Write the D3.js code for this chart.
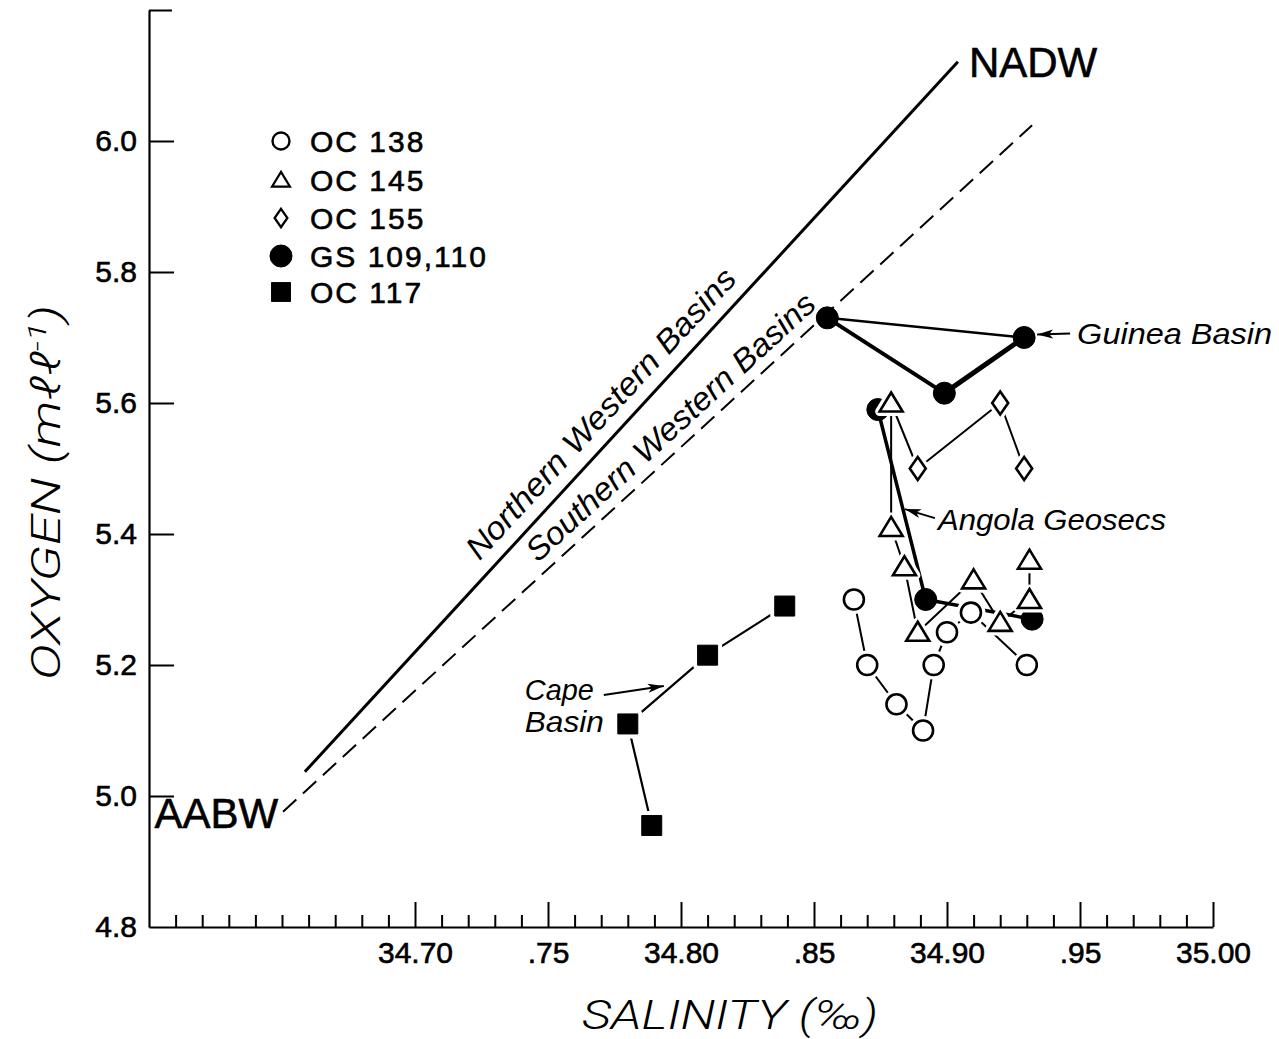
<!DOCTYPE html>
<html>
<head>
<meta charset="utf-8">
<script src="https://cdn.jsdelivr.net/npm/d3@7"></script>
<style>
  body { margin: 0; background: #fff; }
  svg { display: block; }
</style>
</head>
<body>
<svg id="chart" width="1279" height="1039"></svg>
<script>
// Axis ranges and tick labels
const salinityDomain = [34.60, 35.00];
const oxygenDomain = [4.8, 6.2];
const xMajorTicks = [34.70, 34.75, 34.80, 34.85, 34.90, 34.95, 35.00];
const xTickLabels = ["34.70", ".75", "34.80", ".85", "34.90", ".95", "35.00"];
const yMajorTicks = [4.8, 5.0, 5.2, 5.4, 5.6, 5.8, 6.0];
const yTickLabels = ["4.8", "5.0", "5.2", "5.4", "5.6", "5.8", "6.0"];

// Station data: [salinity (‰), oxygen (ml/l)]
const oc138 = [[34.865, 5.30], [34.870, 5.20], [34.881, 5.14], [34.891, 5.10],
               [34.895, 5.20], [34.900, 5.25], [34.909, 5.28], [34.930, 5.20]];
const oc145 = [[34.879, 5.60], [34.879, 5.41], [34.884, 5.35], [34.889, 5.25],
               [34.910, 5.33], [34.920, 5.265], [34.931, 5.30], [34.931, 5.36]];
const oc155 = [[34.889, 5.50], [34.920, 5.60], [34.929, 5.50]];
const gsGuinea = [[34.855, 5.73], [34.899, 5.615], [34.929, 5.70]];
const gsAngola = [[34.874, 5.59], [34.892, 5.30], [34.932, 5.27]];
const oc117 = [[34.839, 5.29], [34.810, 5.215], [34.780, 5.11], [34.789, 4.955]];

// Mixing lines between AABW and NADW
const northernLine = [[34.6586, 5.037], [34.9041, 6.121]];
const southernLine = [[34.6504, 4.976], [34.932, 6.024]];

const legendLabels = ["OC 138", "OC 145", "OC 155", "GS 109,110", "OC 117"];

// ---------------------------------------------------------------------
const svg = d3.select("#chart");
const margin = { left: 149, top: 10, right: 66, bottom: 112 };
const W = 1279, H = 1039;
const x = d3.scaleLinear().domain(salinityDomain).range([margin.left, W - margin.right]);
const y = d3.scaleLinear().domain(oxygenDomain).range([H - margin.bottom, margin.top]);

const tickFont = "'Liberation Sans', Arial, Helvetica, sans-serif";

const defs = svg.append("defs");
defs.append("marker")
  .attr("id", "arrowhead")
  .attr("viewBox", "-16 -5 17 10")
  .attr("refX", 0).attr("refY", 0)
  .attr("markerWidth", 17).attr("markerHeight", 10)
  .attr("markerUnits", "userSpaceOnUse")
  .attr("orient", "auto")
  .append("path")
  .attr("d", "M0,0 L-16,-4.5 L-12,0 L-16,4.5 Z")
  .attr("fill", "#000");

// ---- Axes -----------------------------------------------------------
const xMinor = d3.range(34.61, 35.0, 0.01).filter(v => !xMajorTicks.some(t => Math.abs(t - v) < 1e-6));

const xAxisMinor = d3.axisBottom(x).tickValues(xMinor).tickSize(-12).tickFormat("");
const gxm = svg.append("g").attr("transform", `translate(0,${y(4.8)})`).call(xAxisMinor);
gxm.select(".domain").remove();

const xAxis = d3.axisBottom(x)
  .tickValues(xMajorTicks)
  .tickSize(-25)
  .tickSizeOuter(0)
  .tickPadding(14)
  .tickFormat((d, i) => xTickLabels[i]);
const gx = svg.append("g").attr("transform", `translate(0,${y(4.8)})`).call(xAxis);

const yAxis = d3.axisLeft(y)
  .tickValues(yMajorTicks.concat([6.2]))
  .tickSize(-25)
  .tickSizeOuter(0)
  .tickPadding(12)
  .tickFormat((d, i) => i < yTickLabels.length ? yTickLabels[i] : "");
const gy = svg.append("g").attr("transform", `translate(${x(34.60)},0)`).call(yAxis);
gy.selectAll(".tick").filter(d => d === 6.2).select("line").attr("x2", 23);

[gx, gxm, gy].forEach(g => {
  g.selectAll("line").attr("stroke", "#000").attr("stroke-width", 2);
  g.selectAll(".domain").attr("stroke", "#000").attr("stroke-width", 2.2);
  g.selectAll("text")
    .attr("fill", "#000")
    .attr("stroke", "#000").attr("stroke-width", 0.6)
    .style("font-family", tickFont)
    .style("font-size", "30px");
});
gx.selectAll("text").attr("dy", "0.72em");
gy.selectAll(".tick").filter(d => d === 4.8).select("line").remove();

// Axis titles
svg.append("text")
  .attr("x", 582).attr("y", 1029)
  .attr("textLength", 296).attr("lengthAdjust", "spacingAndGlyphs")
  .style("font-family", "Roboto, 'Open Sans', sans-serif")
  .style("font-weight", 300).style("font-style", "italic")
  .style("font-size", "40px")
  .text("SALINITY (‰)");

const yTitle = svg.append("text")
  .attr("transform", "translate(60,680) rotate(-90)")
  .attr("textLength", 375).attr("lengthAdjust", "spacingAndGlyphs")
  .style("font-family", "Roboto, 'Open Sans', sans-serif")
  .style("font-weight", 300).style("font-style", "italic")
  .style("font-size", "40px");
yTitle.append("tspan").text("OXYGEN (mℓℓ");
yTitle.append("tspan").attr("dy", -14).style("font-size", "26px").text("-1");
yTitle.append("tspan").attr("dy", 14).text(")");

// ---- Mixing lines -----------------------------------------------------
const line = d3.line().x(d => x(d[0])).y(d => y(d[1]));

svg.append("path").datum(northernLine)
  .attr("d", line).attr("fill", "none")
  .attr("stroke", "#000").attr("stroke-width", 3);
svg.append("path").datum(southernLine)
  .attr("d", line).attr("fill", "none")
  .attr("stroke", "#000").attr("stroke-width", 2)
  .attr("stroke-dasharray", "18,9");

// Labels running along the mixing lines, set off to the upper-left side
function alongLabel(seg, t, offset, text, len) {
  const x0 = x(seg[0][0]), y0 = y(seg[0][1]);
  const x1 = x(seg[1][0]), y1 = y(seg[1][1]);
  const ang = Math.atan2(y1 - y0, x1 - x0);
  const px = x0 + (x1 - x0) * t, py = y0 + (y1 - y0) * t;
  const nx = Math.sin(ang), ny = -Math.cos(ang);
  svg.append("text")
    .attr("transform", `translate(${px + nx * offset},${py + ny * offset}) rotate(${ang * 180 / Math.PI})`)
    .attr("textLength", len).attr("lengthAdjust", "spacingAndGlyphs")
    .style("font-family", tickFont).style("font-style", "italic")
    .style("font-size", "32px")
    .text(text);
}
alongLabel(northernLine, 0.283, 14, "Northern  Western  Basins", 382);
alongLabel(southernLine, 0.350, 11, "Southern  Western  Basins", 380);

svg.append("text")
  .attr("x", x(southernLine[0][0]) - 5).attr("y", y(southernLine[0][1]) + 16)
  .attr("text-anchor", "end")
  .attr("stroke", "#000").attr("stroke-width", 0.6)
  .style("font-family", tickFont).style("font-size", "42px")
  .text("AABW");
svg.append("text")
  .attr("x", x(northernLine[1][0]) + 11).attr("y", y(northernLine[1][1]) + 15)
  .attr("stroke", "#000").attr("stroke-width", 0.6)
  .style("font-family", tickFont).style("font-size", "42px")
  .text("NADW");

// ---- Connecting lines -------------------------------------------------
function connect(pts, w) {
  svg.append("path").datum(pts)
    .attr("d", line).attr("fill", "none")
    .attr("stroke", "#000").attr("stroke-width", w)
    .attr("stroke-linejoin", "round").attr("stroke-linecap", "round");
}
connect(oc138, 2);
connect(oc145, 2);
connect([oc145[0]].concat(oc155), 2);
connect(oc117, 2.2);
// Guinea Basin triangle
connect([gsGuinea[0], gsGuinea[2]], 2.5);
connect([gsGuinea[0], gsGuinea[1]], 4);
connect([gsGuinea[1], gsGuinea[2]], 5);
// Angola Geosecs
connect(gsAngola, 3.5);

// ---- Markers ----------------------------------------------------------
const shapes = {
  circle: "M10,0 A10,10 0 1,1 -10,0 A10,10 0 1,1 10,0 Z",
  triangle: "M0,-10.5 L11.5,8.5 L-11.5,8.5 Z",
  diamond: "M0,-11.5 L8,0 L0,11.5 L-8,0 Z",
  dot: "M11,0 A11,11 0 1,1 -11,0 A11,11 0 1,1 11,0 Z",
  square: "M-10,-10 L10,-10 L10,10 L-10,10 Z"
};
function markers(pts, shape, filled, halo) {
  const g = svg.append("g");
  if (halo) {
    g.selectAll("path.halo").data(pts).join("path")
      .attr("class", "halo")
      .attr("transform", d => `translate(${x(d[0])},${y(d[1])})`)
      .attr("d", shapes[shape])
      .attr("fill", "#fff").attr("stroke", "#fff").attr("stroke-width", 9)
      .attr("stroke-linejoin", "round");
  }
  g.selectAll("path.mk").data(pts).join("path")
    .attr("class", "mk")
    .attr("transform", d => `translate(${x(d[0])},${y(d[1])})`)
    .attr("d", shapes[shape])
    .attr("fill", filled ? "#000" : "#fff")
    .attr("stroke", "#000").attr("stroke-width", filled ? 1 : 2.6)
    .attr("stroke-linejoin", filled ? "round" : "miter");
}
markers(gsGuinea, "dot", true, false);
markers(gsAngola, "dot", true, false);
markers(oc138, "circle", false, true);
markers(oc155, "diamond", false, true);
markers(oc145, "triangle", false, true);
markers(oc117, "square", true, true);

// ---- Annotations ------------------------------------------------------
function arrow(x1, y1, x2, y2) {
  svg.append("line")
    .attr("x1", x1).attr("y1", y1).attr("x2", x2).attr("y2", y2)
    .attr("stroke", "#000").attr("stroke-width", 2)
    .attr("marker-end", "url(#arrowhead)");
}
function note(tx, ty, text, len) {
  svg.append("text")
    .attr("x", tx).attr("y", ty)
    .attr("textLength", len).attr("lengthAdjust", "spacingAndGlyphs")
    .style("font-family", tickFont).style("font-style", "italic")
    .style("font-size", "30px")
    .text(text);
}
{
  const gx3 = x(gsGuinea[2][0]), gy3 = y(gsGuinea[2][1]);
  arrow(gx3 + 46, gy3 - 4, gx3 + 13, gy3 - 3);
  note(gx3 + 53, gy3 + 6, "Guinea  Basin", 195);

  const a1x = x(gsAngola[0][0]), a1y = y(gsAngola[0][1]);
  const a2x = x(gsAngola[1][0]), a2y = y(gsAngola[1][1]);
  const hx = a1x + (a2x - a1x) * 0.524 + 2, hy = a1y + (a2y - a1y) * 0.524;
  arrow(hx + 30, hy + 9, hx, hy);
  note(hx + 33, hy + 21, "Angola  Geosecs", 228);

  const s3x = x(oc117[2][0]), s3y = y(oc117[2][1]);
  arrow(s3x - 24, s3y - 29, s3x + 36, s3y - 38);
  note(s3x - 103, s3y - 24, "Cape", 69);
  note(s3x - 103, s3y + 8, "Basin", 79);
}

// ---- Legend -----------------------------------------------------------
const legendShapes = ["circle", "triangle", "diamond", "dot", "square"];
const legendFilled = [false, false, false, true, true];
const legendRows = [141, 180, 218, 256, 292];
const legendScale = [0.85, 0.78, 0.8, 1.0, 0.95];
legendLabels.forEach((lab, i) => {
  svg.append("path")
    .attr("transform", `translate(281,${legendRows[i]}) scale(${legendScale[i]})`)
    .attr("d", shapes[legendShapes[i]])
    .attr("fill", legendFilled[i] ? "#000" : "#fff")
    .attr("stroke", "#000").attr("stroke-width", legendFilled[i] ? 1 : 2.8);
  svg.append("text")
    .attr("x", 310).attr("y", legendRows[i] + 11)
    .attr("stroke", "#000").attr("stroke-width", 0.6)
    .style("font-family", tickFont).style("font-size", "30px")
    .style("letter-spacing", "2px")
    .text(lab.replace(" ", "  "));
});
</script>
</body>
</html>
